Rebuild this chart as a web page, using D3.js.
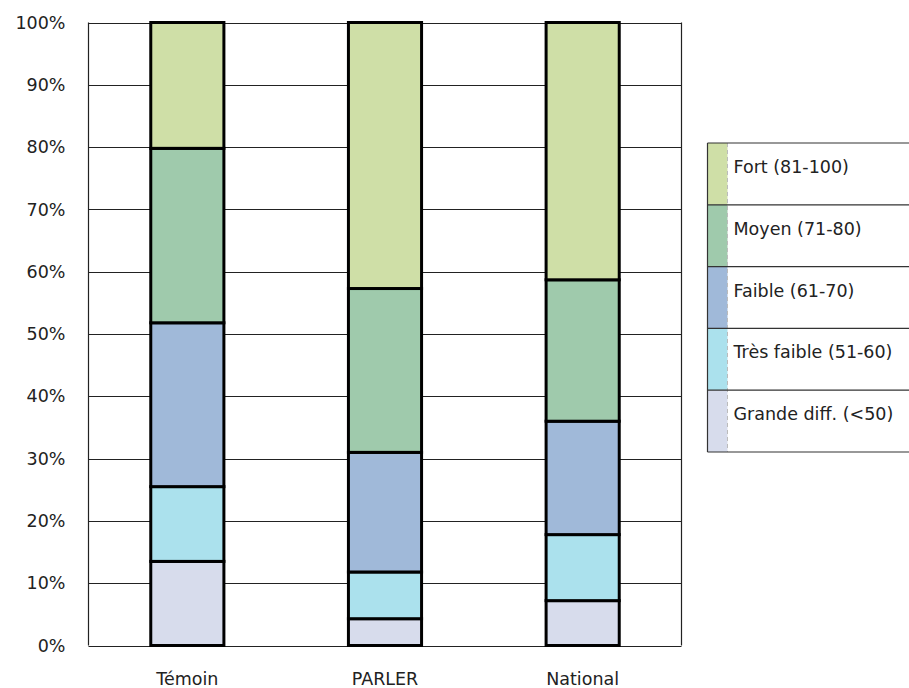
<!DOCTYPE html><meta charset="utf-8">
<title>Répartition par niveau</title>
<style>
  body{margin:0;background:#fff}
  svg{display:block}
  text{font-family:"DejaVu Sans",Verdana,sans-serif;fill:#222}
</style>
<script src="https://d3js.org/d3.v7.min.js"></script>
<body><script>
const groups = ["Témoin", "PARLER", "National"];
const levels = ["Grande diff. (<50)", "Très faible (51-60)", "Faible (61-70)", "Moyen (71-80)", "Fort (81-100)"];
const colors = ["#d7dcec", "#abe1ed", "#a0b9d9", "#9fcaac", "#cfdfa7"];
// percentages per group, bottom to top
const temoin   = [13.5, 12.0, 26.3, 28.0, 20.2];
const parler   = [4.3, 7.5, 19.2, 26.3, 42.7];
const national = [7.2, 10.6, 18.2, 22.7, 41.3];
const yTicks = d3.range(0, 101, 10);

const W = 909, H = 688, FS = "17.5px";
const pL = 88.5, pR = 681.5, pT = 22.5, pB = 645.5;

const rows = [temoin, parler, national].map((v, i) => {
  const o = {group: groups[i]};
  levels.forEach((l, j) => o[l] = v[j]);
  return o;
});
const series = d3.stack().keys(levels)(rows);

const svg = d3.select("body").append("svg").attr("width", W).attr("height", H);
const x = d3.scaleBand().domain(groups).range([pL, pR]).paddingInner(0.63).paddingOuter(0.315);
const y = d3.scaleLinear().domain([0, 100]).range([pB, pT]);

/* grid + frame */
svg.append("g").selectAll("line").data(yTicks).join("line")
  .attr("x1", pL).attr("x2", pR)
  .attr("y1", d => Math.round(y(d)) + 0.5).attr("y2", d => Math.round(y(d)) + 0.5)
  .attr("stroke", "#222").attr("stroke-width", 1.2);
svg.append("line").attr("x1", pL).attr("x2", pL).attr("y1", pT).attr("y2", pB)
  .attr("stroke", "#222").attr("stroke-width", 1.2);
svg.append("line").attr("x1", pR).attr("x2", pR).attr("y1", pT).attr("y2", pB)
  .attr("stroke", "#222").attr("stroke-width", 1.2);

/* y axis labels */
const yAxis = svg.append("g").attr("transform", `translate(${pL},0)`)
  .call(d3.axisLeft(y).tickValues(yTicks).tickFormat(d => d + "%").tickSize(0).tickPadding(23));
yAxis.select(".domain").remove();
yAxis.selectAll("text").style("font-size", FS).style("font-family", "DejaVu Sans").attr("fill", "#222");

/* x axis labels */
const xAxis = svg.append("g").attr("transform", `translate(0,${pB})`)
  .call(d3.axisBottom(x).tickSize(0).tickPadding(27));
xAxis.select(".domain").remove();
xAxis.selectAll("text").style("font-size", FS).style("font-family", "DejaVu Sans").attr("fill", "#222");

/* bars */
svg.append("g").selectAll("g").data(series).join("g")
  .attr("fill", (d, i) => colors[i])
  .selectAll("rect").data(d => d).join("rect")
  .attr("x", d => x(d.data.group))
  .attr("width", x.bandwidth())
  .attr("y", d => y(d[1]))
  .attr("height", d => y(d[0]) - y(d[1]))
  .attr("stroke", "#000").attr("stroke-width", 3);

/* legend */
const lx = 707.5, ly = 143, lh = 61.8, sw = 20;
const lg = svg.append("g");
const order = levels.slice().reverse();
lg.selectAll("rect.sw").data(order).join("rect").attr("class", "sw")
  .attr("x", lx).attr("y", (d, i) => ly + i * lh).attr("width", sw).attr("height", lh)
  .attr("fill", d => colors[levels.indexOf(d)]);
lg.append("line").attr("x1", lx + sw).attr("x2", lx + sw).attr("y1", ly).attr("y2", ly + 5 * lh)
  .attr("stroke", "#bbb").attr("stroke-dasharray", "4,3");
lg.selectAll("line.sep").data(d3.range(6)).join("line").attr("class", "sep")
  .attr("x1", lx).attr("x2", W + 5)
  .attr("y1", i => ly + i * lh).attr("y2", i => ly + i * lh)
  .attr("stroke", "#333").attr("stroke-width", 1.2);
lg.append("line").attr("x1", lx).attr("x2", lx).attr("y1", ly).attr("y2", ly + 5 * lh)
  .attr("stroke", "#333").attr("stroke-width", 1.2);
lg.selectAll("text").data(order).join("text")
  .attr("x", lx + 26).attr("y", (d, i) => ly + i * lh + 30)
  .style("font-size", FS).text(d => d);
</script>
